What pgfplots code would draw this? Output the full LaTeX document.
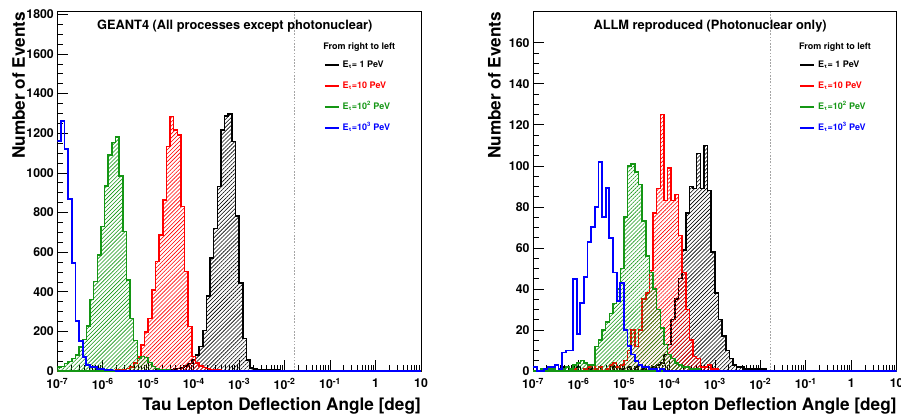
\documentclass[border=0pt]{standalone}
\usepackage{fontspec}
\setmainfont{TeX Gyre Heros}
\usepackage{pgfplots}
\usepackage{pgfplotstable}
\pgfplotsset{compat=1.18}
\usetikzlibrary{patterns.meta}
\definecolor{rgreen}{RGB}{20,150,20}
\definecolor{rblue}{RGB}{0,0,255}
\definecolor{dotgray}{RGB}{165,165,165}

% columns: e = log10 of bin lower edge, k = 1 PeV, r = 10 PeV, g = 10^2 PeV, b = 10^3 PeV
\pgfplotstableread{
e k r g b
-7.00 0 0 20 1160
-6.92 0 0 22 1263
-6.84 0 0 39 1120
-6.76 0 0 47 866
-6.68 0 0 63 543
-6.60 0 0 81 254
-6.52 0 0 120 153
-6.44 0 0 160 72
-6.36 0 0 227 32
-6.28 0 0 360 22
-6.20 0 0 451 20
-6.12 0 0 585 12
-6.04 0 0 728 10
-5.96 0 0 934 6
-5.88 0 0 1090 4
-5.80 0 3 1152 3
-5.72 0 4 1180 2
-5.64 0 6 984 2
-5.56 0 8 705 1
-5.48 0 12 460 1
-5.40 0 20 266 0
-5.32 0 40 153 0
-5.24 0 70 62 0
-5.16 0 131 72 0
-5.08 0 198 68 0
-5.00 2 266 42 0
-4.92 3 409 22 0
-4.84 4 552 12 0
-4.76 5 686 8 0
-4.68 6 863 5 0
-4.60 7 1132 4 0
-4.52 8 1283 3 0
-4.44 10 1216 2 0
-4.36 12 1190 2 0
-4.28 18 829 1 0
-4.20 25 501 1 0
-4.12 38 224 1 0
-4.04 55 72 0 0
-3.96 81 40 0 0
-3.88 123 25 0 0
-3.80 205 18 0 0
-3.72 378 12 0 0
-3.64 569 8 0 0
-3.56 720 5 0 0
-3.48 930 4 0 0
-3.40 1216 3 0 0
-3.32 1287 2 0 0
-3.24 1297 2 0 0
-3.16 1157 1 0 0
-3.08 782 1 0 0
-3.00 443 0 0 0
-2.92 165 0 0 0
-2.84 55 0 0 0
-2.76 15 0 0 0
-2.68 9 0 0 0
-2.60 7 0 0 0
-2.52 6 0 0 0
-2.44 5 0 0 0
-2.36 5 0 0 0
-2.28 4 0 0 0
-2.20 4 0 0 0
-2.12 3 0 0 0
-2.04 3 0 0 0
-1.96 2 0 0 0
-1.88 2 0 0 0
-1.80 1 0 0 0
-1.72 1 0 0 0
-1.64 0 0 0 0
1.00 0 0 0 0
}\geantdata

\pgfplotstableread{
e k r g b
-7.00 0 0 0 2
-6.92 0 0 0 0
-6.84 0 0 1 0
-6.76 0 0 1 1
-6.68 0 0 1 2
-6.60 1 0 1 2
-6.52 0 0 0 3
-6.44 0 0 1 1
-6.36 2 0 1 9
-6.28 0 0 2 10
-6.20 1 0 1 10
-6.12 0 1 3 45
-6.04 2 0 4 18
-5.96 0 0 5 33
-5.88 0 1 4 46
-5.80 1 2 3 63
-5.72 0 3 3 70
-5.64 0 1 12 80
-5.56 2 2 15 102
-5.48 0 0 20 75
-5.40 1 1 24 89
-5.32 0 3 28 65
-5.24 2 4 33 48
-5.16 0 2 40 34
-5.08 1 3 50 43
-5.00 0 5 75 20
-4.92 2 10 100 12
-4.84 0 20 101 8
-4.76 2 12 97 5
-4.68 0 20 91 3
-4.60 1 35 73 2
-4.52 2 38 56 2
-4.44 1 49 48 1
-4.36 2 77 40 1
-4.28 3 89 30 0
-4.20 4 125 21 1
-4.12 8 83 13 0
-4.04 13 99 8 0
-3.96 25 83 6 0
-3.88 35 86 4 0
-3.80 45 66 3 0
-3.72 59 48 2 0
-3.64 77 30 2 0
-3.56 90 15 1 0
-3.48 89 7 1 0
-3.40 106 6 1 0
-3.32 89 2 0 0
-3.24 110 2 0 0
-3.16 88 3 0 0
-3.08 58 1 0 0
-3.00 38 1 0 0
-2.92 25 0 0 0
-2.84 17 0 0 0
-2.76 10 0 0 0
-2.68 6 0 0 0
-2.60 3 0 0 0
-2.52 2 0 0 0
-2.44 2 0 0 0
-2.36 1 0 0 0
-2.28 1 0 0 0
-2.20 1 0 0 0
-2.12 1 0 0 0
-2.04 1 0 0 0
-1.96 1 0 0 0
-1.88 0 0 0 0
1.00 0 0 0 0
}\allmdata

\pgfplotsset{
  rootaxis/.style={
    anchor=south west, scale only axis,
    width=363.7pt, height=359.3pt,
    xmin=-7, xmax=1, ymin=0,
    axis line style={line width=0.7pt},
    tick align=inside, xtick pos=bottom, ytick pos=left,
    major tick length=11pt, minor tick length=6pt,
    every tick/.style={black, line width=0.6pt},
    xtick={-7,-6,-5,-4,-3,-2,-1,0,1},
    xticklabels={10\textsuperscript{-7},10\textsuperscript{-6},10\textsuperscript{-5},10\textsuperscript{-4},10\textsuperscript{-3},10\textsuperscript{-2},10\textsuperscript{-1},1,10},
    minor xtick={-6.699,-6.523,-6.398,-6.301,-6.222,-6.155,-6.097,-6.046,
                 -5.699,-5.523,-5.398,-5.301,-5.222,-5.155,-5.097,-5.046,
                 -4.699,-4.523,-4.398,-4.301,-4.222,-4.155,-4.097,-4.046,
                 -3.699,-3.523,-3.398,-3.301,-3.222,-3.155,-3.097,-3.046,
                 -2.699,-2.523,-2.398,-2.301,-2.222,-2.155,-2.097,-2.046,
                 -1.699,-1.523,-1.398,-1.301,-1.222,-1.155,-1.097,-1.046,
                 -0.699,-0.523,-0.398,-0.301,-0.222,-0.155,-0.097,-0.046,
                 0.301,0.477,0.602,0.699,0.778,0.845,0.903,0.954},
    minor y tick num=3,
    /pgf/number format/assume math mode=true,
    /pgf/number format/1000 sep={},
    tick label style={font=\fontsize{12.3}{14}\selectfont\bfseries},
    xticklabel style={yshift=-4pt},
    xlabel={Tau Lepton Deflection Angle [deg]},
    ylabel={Number of Events},
    xlabel style={at={([yshift=-39.7pt]rel axis cs:1,0)}, anchor=base east, inner sep=0pt,
                  font=\fontsize{17.2}{20}\selectfont\bfseries},
    ylabel style={at={([xshift=-32.5pt]rel axis cs:0,1)}, anchor=base east, inner sep=0pt,
                  font=\fontsize{17.2}{20}\selectfont\bfseries},
    legend style={at={(rel axis cs:0.7333,0.867)}, anchor=north west, draw=none, fill=none,
                  inner sep=0pt, outer sep=0pt, row sep=10pt, column sep=2pt,
                  font=\fontsize{9}{11}\selectfont\bfseries,
                  nodes={inner sep=1pt, text height=7pt, text depth=2pt}},
    legend cell align=left,
    legend image code/.code={\draw[##1] (0pt,0pt) -- (14pt,0pt);},
  },
  hist/.style={const plot, forget plot, line width=1.5pt, draw=#1, line join=miter,
               pattern={Lines[angle=45, distance=2.8pt, line width=0.6pt]}, pattern color=#1},
  histline/.style={const plot, forget plot, line width=1.8pt, draw=#1, color=#1,
                   fill=none, line join=miter},
}

\begin{document}
\begin{tikzpicture}
\useasboundingbox (0,0) rectangle (901pt,416pt);

% ---------------- left panel ----------------
\begin{axis}[rootaxis, at={(57.3pt,45pt)}, ymax=1813,
  ytick={0,200,400,600,800,1000,1200,1400,1600,1800}]
\addplot[forget plot, dotgray, line width=0.8pt, dash pattern=on 1.6pt off 1.6pt]
  coordinates {(-1.778,0) (-1.778,1813)};
\addplot[hist=black] table[x=e, y=k] {\geantdata} \closedcycle;
\addplot[hist=red] table[x=e, y=r] {\geantdata} \closedcycle;
\addplot[hist=rgreen] table[x=e, y=g] {\geantdata} \closedcycle;
\addplot[histline=rblue] table[x=e, y=b] {\geantdata};
\addlegendimage{black, line width=1.5pt}
\addlegendentry[text=black]{E\textsubscript{τ}= 1 PeV}
\addlegendimage{red, line width=1.5pt}
\addlegendentry[text=red]{E\textsubscript{τ}=10 PeV}
\addlegendimage{rgreen, line width=1.5pt}
\addlegendentry[text=rgreen]{E\textsubscript{τ}=10\textsuperscript{2} PeV}
\addlegendimage{rblue, line width=1.5pt}
\addlegendentry[text=rblue]{E\textsubscript{τ}=10\textsuperscript{3} PeV}
\node[font=\fontsize{12.8}{15}\selectfont\bfseries] at (rel axis cs:0.488,0.960)
  {GEANT4 (All processes except photonuclear)};
\node[anchor=west, inner sep=0pt, font=\fontsize{9}{11}\selectfont\bfseries]
  at (rel axis cs:0.731,0.9026) {From right to left};
\end{axis}

% ---------------- right panel ----------------
\begin{axis}[rootaxis, at={(533pt,45pt)}, ymax=175.1,
  ytick={0,20,40,60,80,100,120,140,160}]
\addplot[forget plot, dotgray, line width=0.8pt, dash pattern=on 1.6pt off 1.6pt]
  coordinates {(-1.778,0) (-1.778,175.1)};
\addplot[hist=black] table[x=e, y=k] {\allmdata} \closedcycle;
\addplot[hist=red] table[x=e, y=r] {\allmdata} \closedcycle;
\addplot[hist=rgreen] table[x=e, y=g] {\allmdata} \closedcycle;
\addplot[histline=rblue] table[x=e, y=b] {\allmdata};
\addlegendimage{black, line width=1.5pt}
\addlegendentry[text=black]{E\textsubscript{τ}= 1 PeV}
\addlegendimage{red, line width=1.5pt}
\addlegendentry[text=red]{E\textsubscript{τ}=10 PeV}
\addlegendimage{rgreen, line width=1.5pt}
\addlegendentry[text=rgreen]{E\textsubscript{τ}=10\textsuperscript{2} PeV}
\addlegendimage{rblue, line width=1.5pt}
\addlegendentry[text=rblue]{E\textsubscript{τ}=10\textsuperscript{3} PeV}
\node[font=\fontsize{12.8}{15}\selectfont\bfseries] at (rel axis cs:0.487,0.960)
  {ALLM reproduced (Photonuclear only)};
\node[anchor=west, inner sep=0pt, font=\fontsize{9}{11}\selectfont\bfseries]
  at (rel axis cs:0.731,0.9026) {From right to left};
\end{axis}
\end{tikzpicture}
\end{document}
